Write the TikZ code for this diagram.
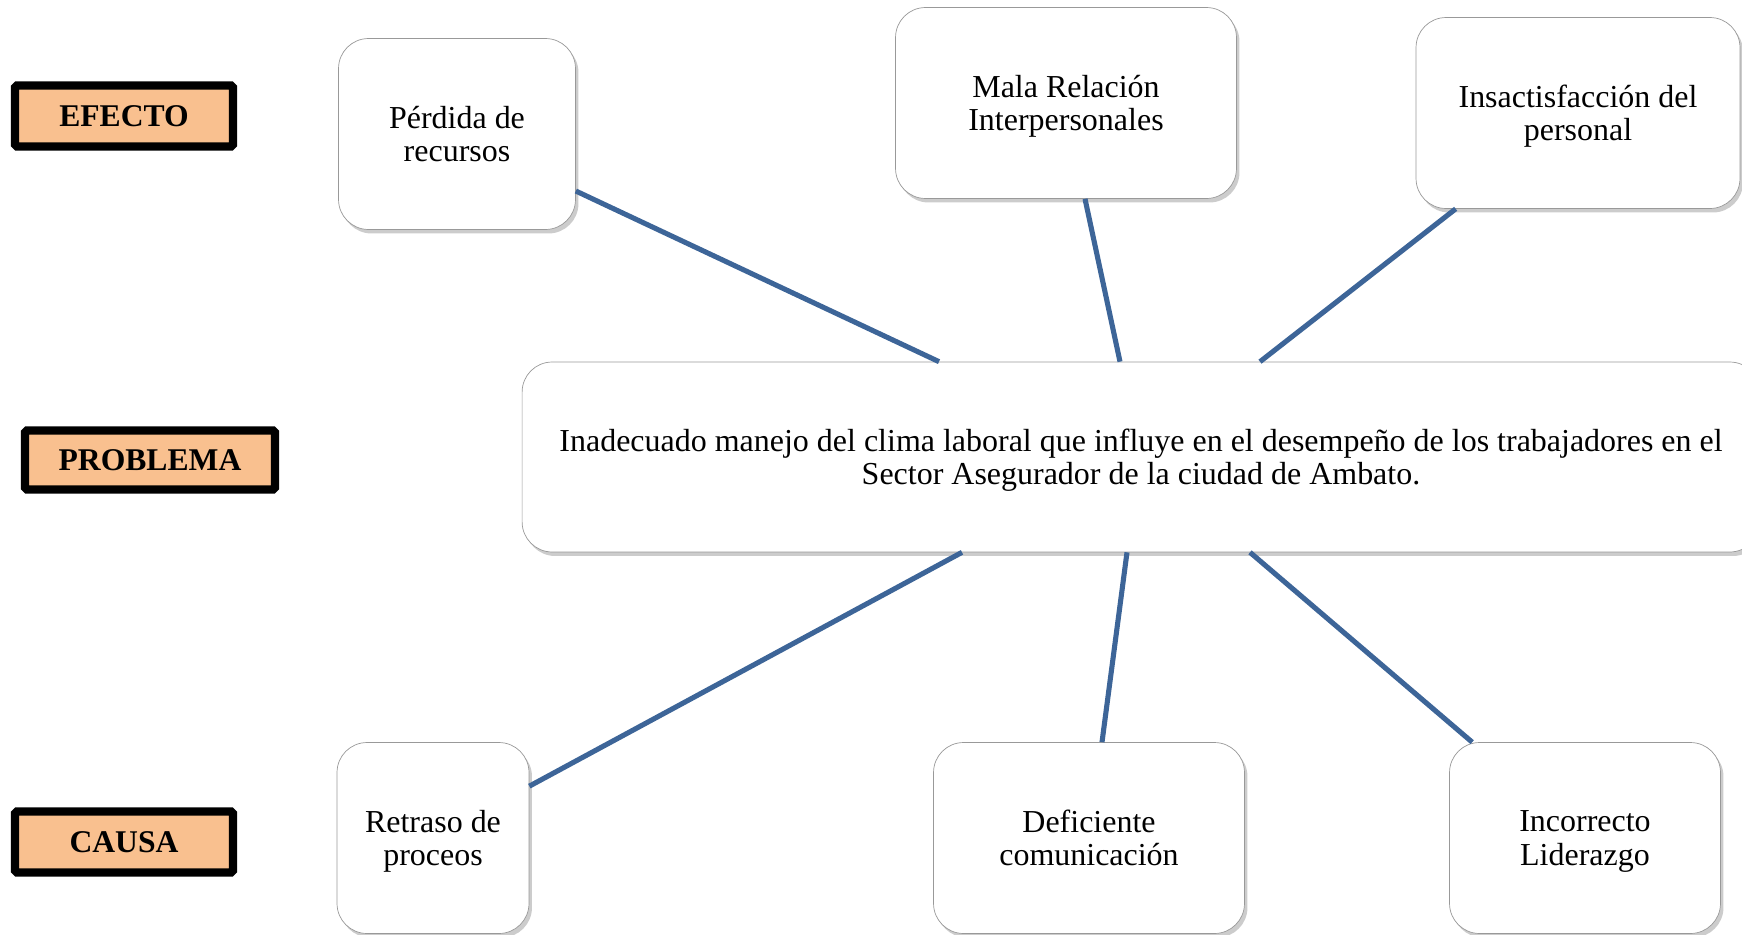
\documentclass[tikz,border=0pt]{standalone}
\usepackage{fontspec}
\setmainfont{Liberation Serif}
\usepackage{xcolor}
\usetikzlibrary{positioning,calc,shadows}
\definecolor{peach}{HTML}{F9C08F}
\definecolor{linkblue}{HTML}{3D6598}

\begin{document}
\begin{tikzpicture}[x=0.02cm, y=-0.02cm,
    tag/.style={draw=black, line width=4.6pt, fill=peach, rounded corners=1pt, inner sep=0pt, font=\fontsize{18}{20}\selectfont\bfseries},
    box/.style={draw=gray!80, fill=white, rounded corners=0.6cm, align=center, inner sep=0pt, font=\fontsize{18.2}{19}\selectfont,
        text depth=-0.5pt,
        drop shadow={shadow xshift=0.06cm, shadow yshift=-0.08cm, opacity=0.4}},
    link/.style={draw=linkblue, line width=2.9pt}]
    \useasboundingbox (0,0) rectangle (1742,934);
    % row labels
    \node[tag, minimum width=4.36cm, minimum height=1.22cm] (efecto) at (124,116) {EFECTO};
    \node[tag, minimum width=5.0cm, minimum height=1.18cm] (problema) at (150,460) {PROBLEMA};
    \node[tag, minimum width=4.36cm, minimum height=1.22cm] (causa) at (124,842) {CAUSA};
    % effects
    \node[box, minimum width=4.74cm, minimum height=3.82cm] (per) at (457,134) {Pérdida de\\ recursos};
    \node[box, minimum width=6.82cm, minimum height=3.82cm] (mal) at (1066,103) {Mala Relación\\ Interpersonales};
    \node[box, minimum width=6.48cm, minimum height=3.82cm] (ins) at (1578,113) {Insactisfacción del\\ personal};
    % problem
    \node[box, minimum width=24.76cm, minimum height=3.8cm] (prob) at (1141,457) {Inadecuado manejo del clima laboral que influye en el desempeño de los trabajadores en el\\ Sector Asegurador de la ciudad de Ambato.};
    % causes
    \node[box, minimum width=3.84cm, minimum height=3.82cm] (ret) at (433,838) {Retraso de\\ proceos};
    \node[box, minimum width=6.22cm, minimum height=3.82cm] (def) at (1089,838) {Deficiente\\ comunicación};
    \node[box, minimum width=5.42cm, minimum height=3.82cm] (inc) at (1585,838) {Incorrecto\\ Liderazgo};
    % links
    \path [link] ([shift={(0,57)}]per.east) edge ([shift={(-202,0)}]prob.north);
    \path [link] ([shift={(19,0)}]mal.south) edge ([shift={(-21,0)}]prob.north);
    \path [link] ([shift={(40,0)}]ins.south west) edge ([shift={(119,0)}]prob.north);
    \path [link] ([shift={(0,44)}]ret.north east) edge ([shift={(-179,0)}]prob.south);
    \path [link] ([shift={(13,0)}]def.north) edge ([shift={(-14,0)}]prob.south);
    \path [link] ([shift={(23,0)}]inc.north west) edge ([shift={(109,0)}]prob.south);
\end{tikzpicture}
\end{document}
